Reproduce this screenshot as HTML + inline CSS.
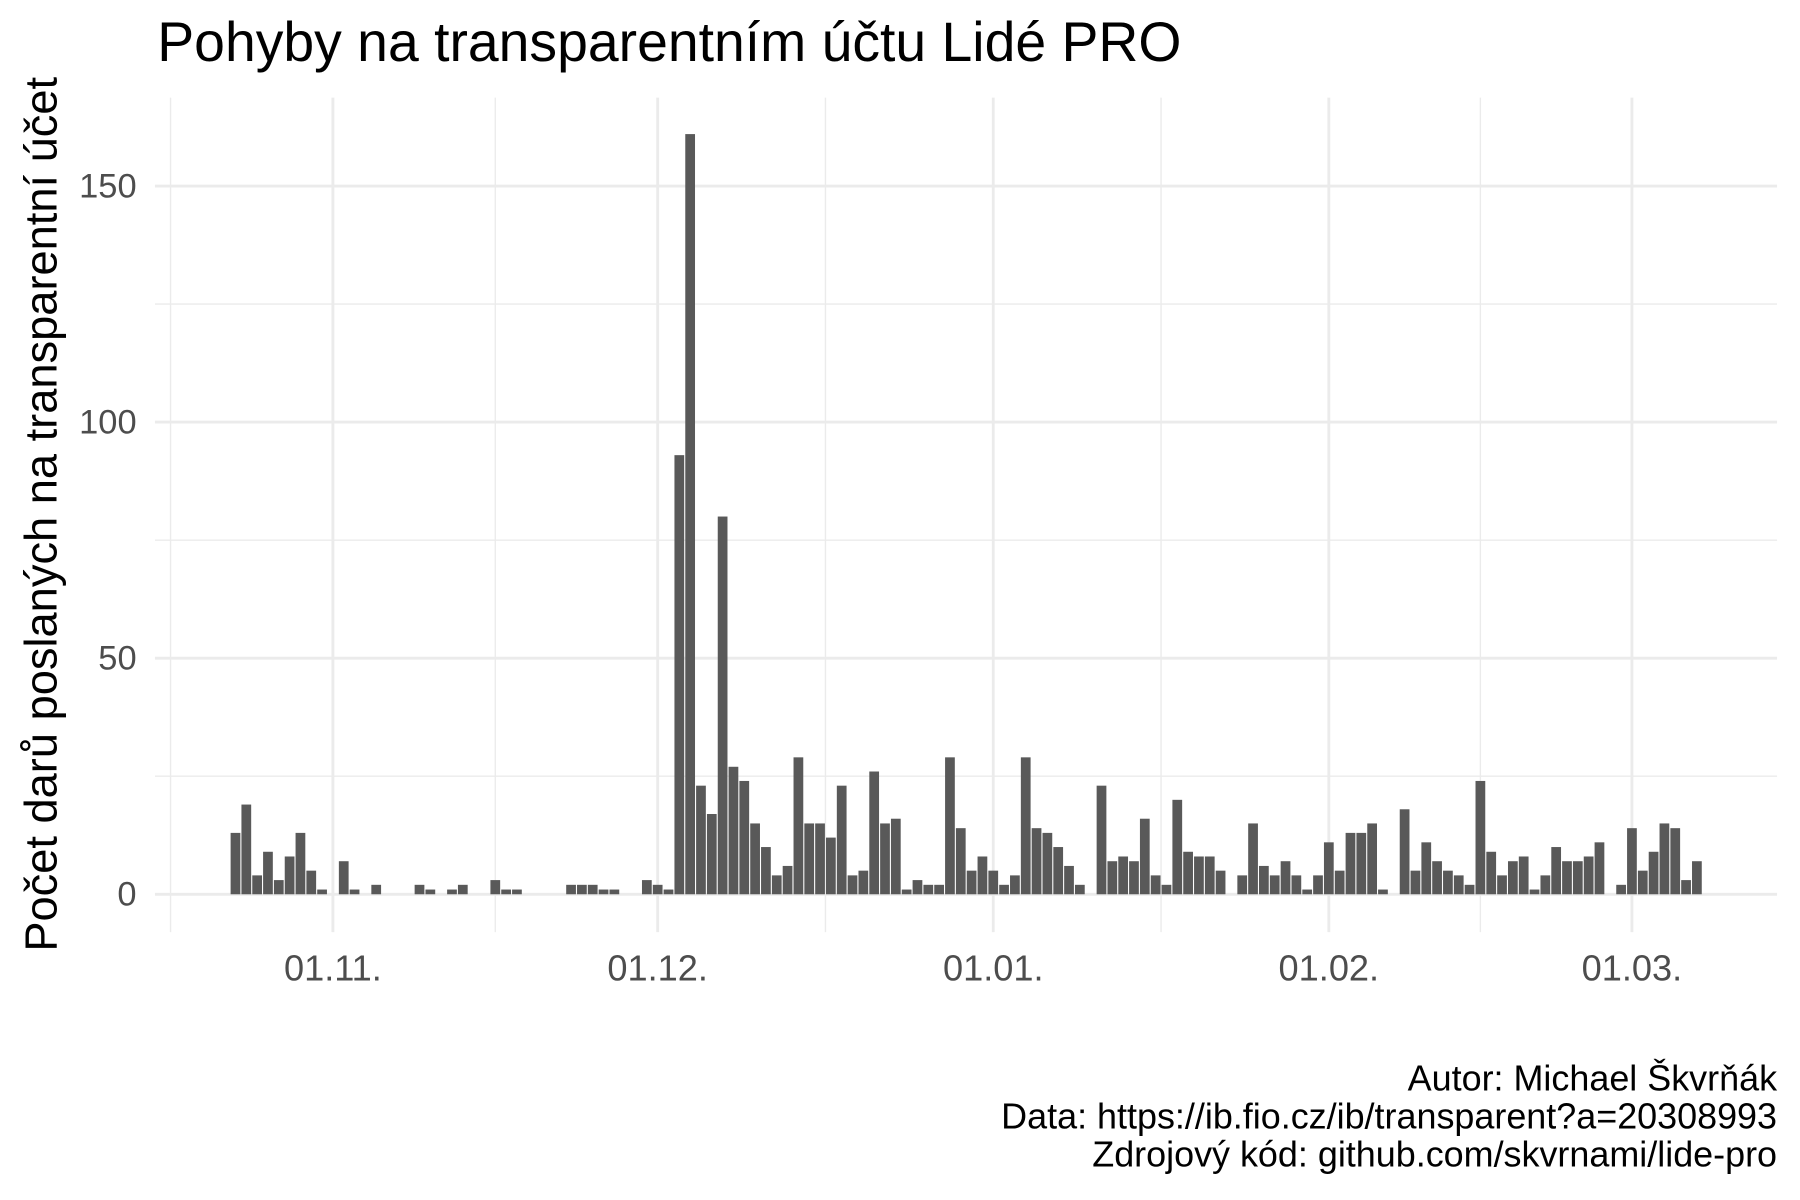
<!DOCTYPE html>
<html><head><meta charset="utf-8"><style>
html,body{margin:0;padding:0;background:#fff;}
svg{display:block;font-family:"Liberation Sans","DejaVu Sans",sans-serif;}
</style></head><body>
<svg id="chart" width="1800" height="1200" viewBox="0 0 1568 1045.33" preserveAspectRatio="none" xmlns="http://www.w3.org/2000/svg">
<g id="grid"></g>
<g id="bars"></g>
<g id="axes"></g>
<text x="137" y="53" font-size="48.2" fill="#000">Pohyby na transparentním účtu Lidé PRO</text>
<text transform="translate(49,448) rotate(-90)" text-anchor="middle" font-size="39.4" fill="#000">Počet darů poslaných na transparentní účet</text>
<g font-size="31.3" fill="#000" text-anchor="end">
<text x="1548" y="950">Autor: Michael Škvrňák</text>
<text x="1548" y="983">Data: https://ib.fio.cz/ib/transparent?a=20308993</text>
<text x="1548" y="1016">Zdrojový kód: github.com/skvrnami/lide-pro</text>
</g>
</svg>
<script>
// days offset from 2018-11-01
const dayOffsets = [-9,-8,-7,-6,-5,-4,-3,-2,-1,1,2,4,8,9,11,12,15,16,17,22,23,24,25,26,29,30,31,32,33,34,35,36,37,38,39,40,41,42,43,44,45,46,47,48,49,50,51,52,53,54,55,56,57,58,59,60,61,62,63,64,65,66,67,68,69,71,72,73,74,75,76,77,78,79,80,81,82,84,85,86,87,88,89,90,91,92,93,94,95,96,97,99,100,101,102,103,104,105,106,107,108,109,110,111,112,113,114,115,116,117,119,120,121,122,123,124,125,126];
const counts = [13,19,4,9,3,8,13,5,1,7,1,2,2,1,1,2,3,1,1,2,2,2,1,1,3,2,1,93,161,23,17,80,27,24,15,10,4,6,29,15,15,12,23,4,5,26,15,16,1,3,2,2,29,14,5,8,5,2,4,29,14,13,10,6,2,23,7,8,7,16,4,2,20,9,8,8,5,4,15,6,4,7,4,1,4,11,5,13,13,15,1,18,5,11,7,5,4,2,24,9,4,7,8,1,4,10,7,7,8,11,2,14,5,9,15,14,3,7];
const yTicks = [0,50,100,150];
const yMinor = [25,75,125];
const xTickDays = [0,30,61,92,120];
const xTickLabels = ["01.11.","01.12.","01.01.","01.02.","01.03."];
const xMinorDays = [-15,15,45.5,76.5,106];

const NS="http://www.w3.org/2000/svg";
const X0=290, PXD=9.43, Y0=779, PXU=4.113;
const PL=135, PR=1548, PT=85, PB=812;
function xs(d){return X0+d*PXD;}
function ys(v){return Y0-v*PXU;}
function mk(tag,attrs,parent){const e=document.createElementNS(NS,tag);for(const k in attrs)e.setAttribute(k,attrs[k]);parent.appendChild(e);return e;}
const grid=document.getElementById('grid'), bars=document.getElementById('bars'), axes=document.getElementById('axes');
yMinor.forEach(v=>{const l=mk('line',{x1:PL,x2:PR,y1:ys(v),y2:ys(v),stroke:'#ebebeb','stroke-width':1.2},grid);

});
xMinorDays.forEach(d=>{const l=mk('line',{x1:xs(d),x2:xs(d),y1:PT,y2:PB,stroke:'#ebebeb','stroke-width':1.2},grid);

});
yTicks.forEach(v=>{const l=mk('line',{x1:PL,x2:PR,y1:ys(v),y2:ys(v),stroke:'#ebebeb','stroke-width':2.5},grid);


const t=mk('text',{x:119,y:ys(v)+10,'text-anchor':'end','font-size':30,fill:'#4d4d4d'},axes);t.textContent=v;

});
xTickDays.forEach((d,i)=>{const l=mk('line',{x1:xs(d),x2:xs(d),y1:PT,y2:PB,stroke:'#ebebeb','stroke-width':2.5},grid);


const t=mk('text',{x:xs(d),y:854,'text-anchor':'middle','font-size':31.5,fill:'#4d4d4d'},axes);t.textContent=xTickLabels[i];

});
const bw=PXD*0.9;
dayOffsets.forEach((d,i)=>{const v=counts[i];const r=mk('rect',{x:xs(d)-bw/2,y:ys(v),width:bw,height:v*PXU,fill:'#595959'},bars);

});
</script>
</body></html>
